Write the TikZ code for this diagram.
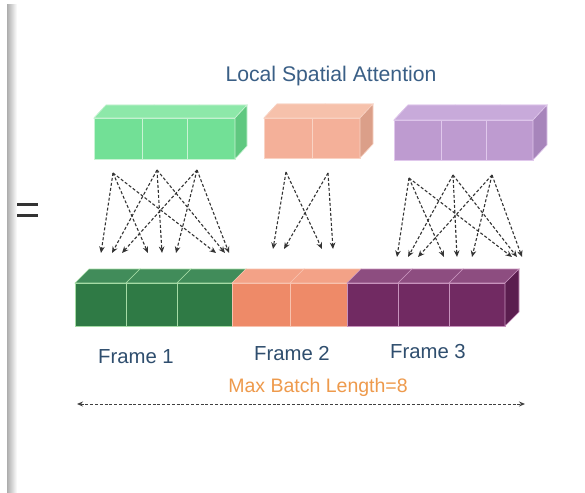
\documentclass[tikz,border=0pt]{standalone}
\usepackage{fontspec}
\setmainfont{Liberation Sans}
\usetikzlibrary{arrows.meta}

% colours of the blocks
\definecolor{lgfront}{HTML}{72E096}
\definecolor{lgtop}{HTML}{8DE8A9}
\definecolor{lgside}{HTML}{5FC880}
\definecolor{lgedge}{HTML}{C9F3D4}
\definecolor{lpfront}{HTML}{F4B099}
\definecolor{lptop}{HTML}{F6C1AB}
\definecolor{lpside}{HTML}{DB9F89}
\definecolor{lpedge}{HTML}{F9D3C4}
\definecolor{lvfront}{HTML}{BE9BD0}
\definecolor{lvtop}{HTML}{C8AADA}
\definecolor{lvside}{HTML}{A785BB}
\definecolor{lvedge}{HTML}{E0C8EC}
\definecolor{dgfront}{HTML}{2F7A45}
\definecolor{dgtop}{HTML}{418C5A}
\definecolor{dgedge}{HTML}{A5DBA5}
\definecolor{orfront}{HTML}{EE8A68}
\definecolor{ortop}{HTML}{F3A287}
\definecolor{oredge}{HTML}{F8C2AE}
\definecolor{dpfront}{HTML}{712A62}
\definecolor{dptop}{HTML}{8D4D80}
\definecolor{dpside}{HTML}{5B1E4F}
\definecolor{dpedge}{HTML}{C893BD}
\definecolor{titleblue}{HTML}{3A5F86}
\definecolor{framelabel}{HTML}{2F4E6E}
\definecolor{batchorange}{HTML}{EE9A4C}

% a row of cells: cells, ytop, ybot, dx, dy, front, top, edge
\newcommand\cellrow[8]{%
  \foreach \a/\b in {#1}{%
    \filldraw[fill=#7,draw=#8,line width=0.6] (\a,#2) -- ++(#4,#5) -- (\b+#4,#2+#5) -- (\b,#2) -- cycle;
    \filldraw[fill=#6,draw=#8,line width=0.6] (\a,#2) rectangle (\b,#3);
  }}
% one undivided top face: xleft, xright, ytop, dx, dy, fill, edge
\newcommand\celltop[7]{%
  \filldraw[fill=#6,draw=#7,line width=0.6] (#1,#3) -- ++(#4,#5) -- (#2+#4,#3+#5) -- (#2,#3) -- cycle;}
% right-hand face: x, ytop, ybot, dx, dy, fill, edge
\newcommand\cellside[7]{%
  \filldraw[fill=#6,draw=#7,line width=0.6] (#1,#2) -- ++(#4,#5) -- ++(0,#3-#2) -- (#1,#3) -- cycle;}

\begin{document}
\begin{tikzpicture}[x=1pt,y=-1pt,
  attn/.style={draw=black!80,line width=1.1pt,dash pattern=on 3pt off 2pt,
    -{Stealth[length=6.5pt,width=5.5pt]}},
  span/.style={draw=black!75,line width=1pt,dash pattern=on 3pt off 1.8pt,
    {Stealth[length=6pt,width=5pt]}-{Stealth[length=6pt,width=5pt]}},
  lbl/.style={font=\fontsize{20.3}{24}\selectfont,text=framelabel,inner sep=0pt}]

\useasboundingbox (0,0) rectangle (585,492);
\fill[white] (0,0) rectangle (585,492);

% shadow strip on the left edge
\shade[left color=black!32,right color=white] (7,5) rectangle (17,492);

% equals sign
\draw[line width=3pt,black!80] (17,204) -- (38,204);
\draw[line width=3pt,black!80] (17,215) -- (38,215);

% title
\node[font=\fontsize{21.2}{25}\selectfont,text=titleblue,inner sep=0pt] (title) at (331,76) {Local Spatial Attention};

% upper blocks
\cellrow{94/142,142/187,187/235}{118}{159}{12}{-13}{lgfront}{lgtop}{lgedge}
\celltop{94}{235}{118}{12}{-13}{lgtop}{lgedge}
\cellside{235}{118}{159}{12}{-13}{lgside}{lgedge}
\cellrow{264/312,312/360}{118}{158}{13}{-14}{lpfront}{lptop}{lpedge}
\celltop{264}{360}{118}{13}{-14}{lptop}{lpedge}
\cellside{360}{118}{158}{13}{-14}{lpside}{lpedge}
\cellrow{394/441,441/486,486/533}{120}{160}{14}{-15}{lvfront}{lvtop}{lvedge}
\celltop{394}{533}{120}{14}{-15}{lvtop}{lvedge}
\cellside{533}{120}{160}{14}{-15}{lvside}{lvedge}

% lower block: eight frames' cells side by side
\cellrow{75/126,126/177,177/232}{283}{326}{14}{-14}{dgfront}{dgtop}{dgedge}
\cellrow{232/290,290/347}{283}{326}{14}{-14}{orfront}{ortop}{oredge}
\cellrow{347/398,398/449,449/505}{283}{326}{14}{-14}{dpfront}{dptop}{dpedge}
\cellside{505}{283}{326}{14}{-14}{dpside}{dpedge}

% attention sources
\coordinate (a1) at (113,173);
\coordinate (a2) at (157,170);
\coordinate (a3) at (197,170);
\coordinate (b1) at (286,172);
\coordinate (b2) at (328,173);
\coordinate (c1) at (409,178);
\coordinate (c2) at (453,175);
\coordinate (c3) at (492,175);

% attention targets
\foreach \n/\x in {11/101,12/148,13/216,21/112,22/162,23/225,31/122,32/176,33/229}
  \coordinate (ta\n) at (\x,253);
\foreach \n/\x in {11/273,12/322,21/284,22/333}
  \coordinate (tb\n) at (\x,249);
\foreach \n/\x in {11/397,12/444,13/512,21/408,22/457,23/517,31/418,32/472,33/522}
  \coordinate (tc\n) at (\x,257);

\foreach \i in {1,2,3}{
  \foreach \j in {1,2,3}{
    \draw[attn] (a\i) -- (ta\i\j);
    \draw[attn] (c\i) -- (tc\i\j);
  }}
\foreach \i in {1,2}{
  \foreach \j in {1,2}{
    \draw[attn] (b\i) -- (tb\i\j);
  }}

% frame labels
\node[lbl] (f1) at (136,357) {Frame 1};
\node[lbl] (f2) at (292,354) {Frame 2};
\node[lbl] (f3) at (428,352) {Frame 3};

% batch length
\node[font=\fontsize{19.5}{23}\selectfont,text=batchorange,inner sep=0pt] (maxlen) at (318,387) {Max Batch Length=8};
\coordinate (spanl) at (77,404);
\coordinate (spanr) at (525,404);
\draw[span] (spanl) -- (spanr);

\end{tikzpicture}
\end{document}
